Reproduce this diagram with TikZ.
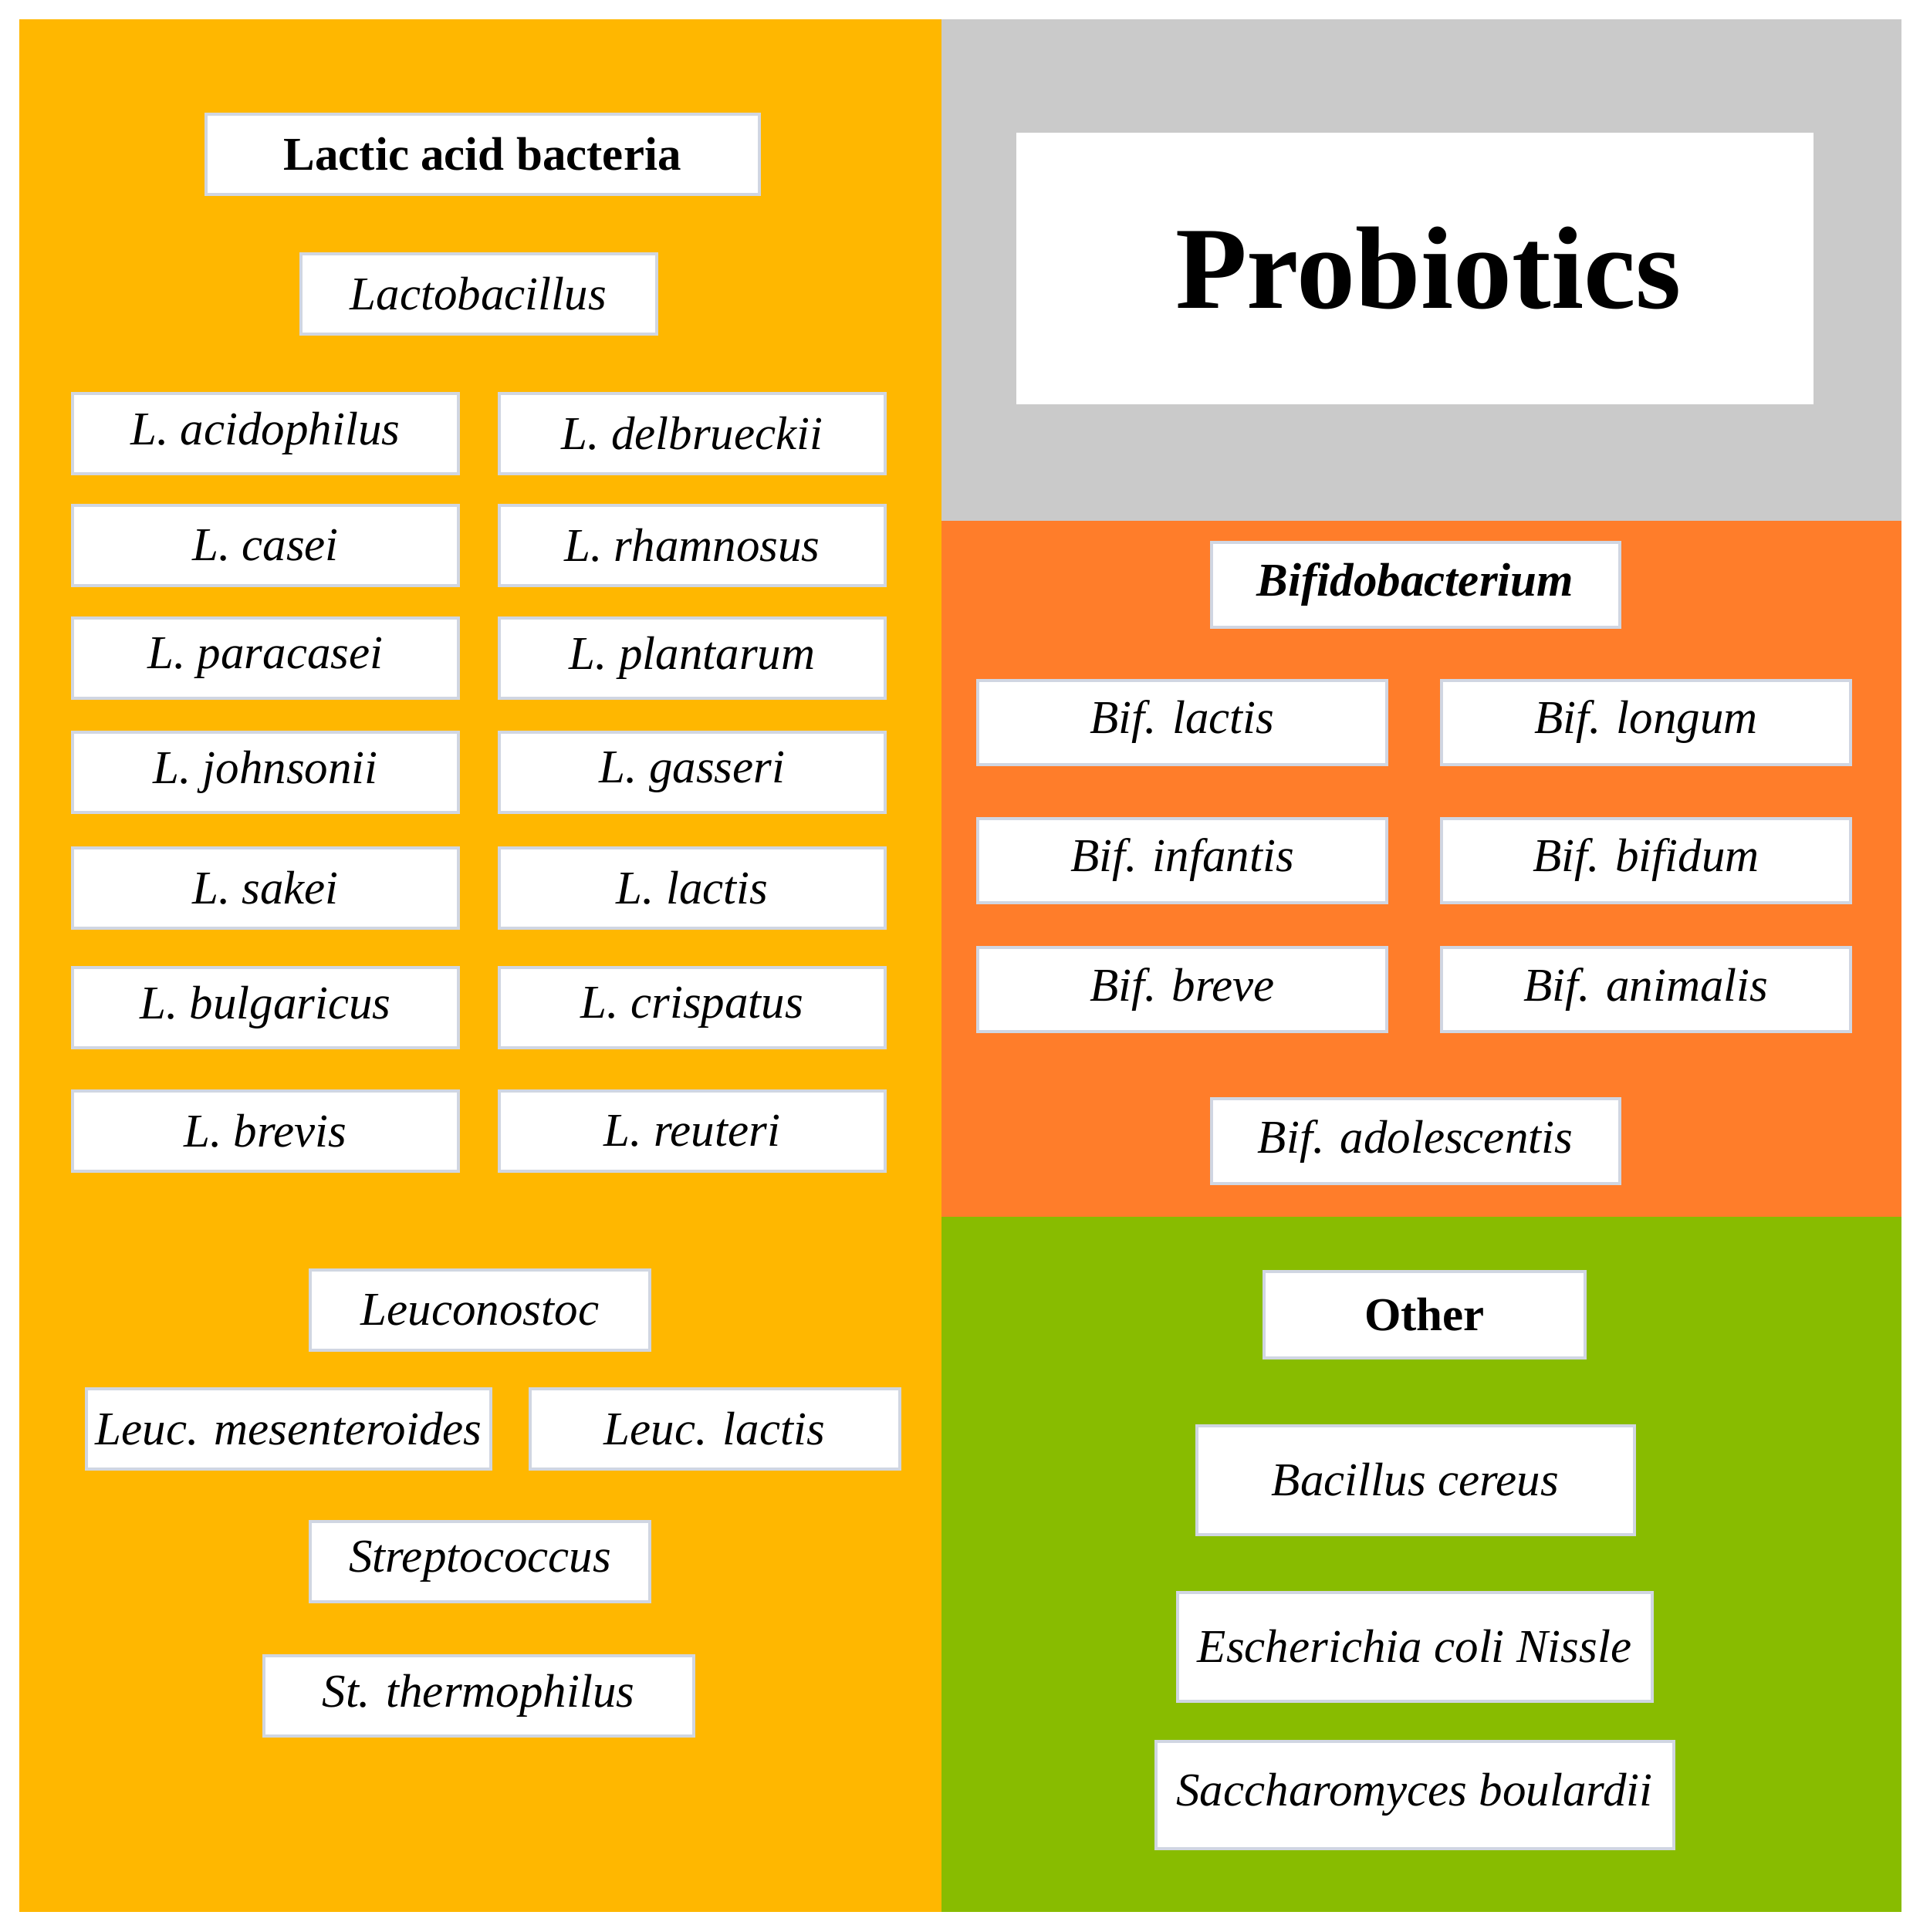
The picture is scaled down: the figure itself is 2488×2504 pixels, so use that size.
\documentclass[tikz,border=0pt]{standalone}
\usepackage{fontspec}
\setmainfont{Liberation Serif}
\definecolor{lab}{RGB}{255,183,0}
\definecolor{bif}{RGB}{255,125,42}
\definecolor{oth}{RGB}{136,188,0}
\definecolor{gry}{RGB}{202,202,202}
\definecolor{edge}{RGB}{208,214,226}
\begin{document}
\begin{tikzpicture}[x=1pt,y=-1pt,
  bx/.style={draw=edge, line width=4pt, fill=white, inner sep=0pt,
    minimum height=104pt, font=\fontsize{61}{70}\selectfont},
  lw/.style={bx, minimum width=500pt},
  bw/.style={bx, minimum width=530pt, minimum height=109pt}]
\useasboundingbox (0,0) rectangle (2488,2504);
\fill[white] (0,0) rectangle (2488,2504);
% panels
\fill[lab] (25,25) rectangle (1220,2478);
\fill[gry] (1220,25) rectangle (2464,675);
\fill[bif] (1220,675) rectangle (2464,1577);
\fill[oth] (1220,1577) rectangle (2464,2478);
% left panel
\node[bx, minimum width=717pt] (lab) at (625,200) {\textbf{Lactic acid bacteria}};
\node[bx, minimum width=461pt] (lacto) at (620,381) {\textit{Lactobacillus}};
\node[lw] (l1) at (344,562) {\textit{L. acidophilus}};
\node[lw] (r1) at (897,562) {\textit{L. delbrueckii}};
\node[lw] (l2) at (344,707) {\textit{L. casei}};
\node[lw] (r2) at (897,707) {\textit{L. rhamnosus}};
\node[lw] (l3) at (344,853) {\textit{L. paracasei}};
\node[lw] (r3) at (897,853) {\textit{L. plantarum}};
\node[lw] (l4) at (344,1001) {\textit{L. johnsonii}};
\node[lw] (r4) at (897,1001) {\textit{L. gasseri}};
\node[lw] (l5) at (344,1151) {\textit{L. sakei}};
\node[lw] (r5) at (897,1151) {\textit{L. lactis}};
\node[lw] (l6) at (344,1306) {\textit{L. bulgaricus}};
\node[lw] (r6) at (897,1306) {\textit{L. crispatus}};
\node[lw] (l7) at (344,1466) {\textit{L. brevis}};
\node[lw] (r7) at (897,1466) {\textit{L. reuteri}};
\node[bx, minimum width=440pt] (leuc) at (622,1698) {\textit{Leuconostoc}};
\node[bx, minimum width=524pt] (lmes) at (374,1852) {\textit{Leuc. mesenteroides}};
\node[bx, minimum width=479pt] (llac) at (926,1852) {\textit{Leuc. lactis}};
\node[bx, minimum width=440pt] (strep) at (622,2024) {\textit{Streptococcus}};
\node[bx, minimum width=557pt] (sth) at (620,2198) {\textit{St. thermophilus}};
% probiotics
\node[fill=white, inner sep=0pt, minimum width=1033pt, minimum height=352pt,
  font=\fontsize{152}{170}\selectfont\bfseries] (prob) at (1833,348) {\hspace*{36pt}Probiotics};
% bifidobacterium
\node[bx, minimum width=529pt, minimum height=110pt] (bifi) at (1834,758) {\textbf{\textit{Bifidobacterium}}};
\node[bw] (b1) at (1532,936) {\textit{Bif. lactis}};
\node[bw] (b2) at (2133,936) {\textit{Bif. longum}};
\node[bw] (b3) at (1532,1115) {\textit{Bif. infantis}};
\node[bw] (b4) at (2133,1115) {\textit{Bif. bifidum}};
\node[bw] (b5) at (1532,1282) {\textit{Bif. breve}};
\node[bw] (b6) at (2133,1282) {\textit{Bif. animalis}};
\node[bx, minimum width=529pt, minimum height=110pt] (b7) at (1834,1479) {\textit{Bif. adolescentis}};
% other
\node[bx, minimum width=416pt, minimum height=112pt] (oth) at (1846,1704) {\textbf{Other}};
\node[bx, minimum width=567pt, minimum height=141pt] (bac) at (1834,1918) {\textit{Bacillus cereus}};
\node[bx, minimum width=615pt, minimum height=141pt] (eco) at (1833,2134) {\textit{Escherichia coli Nissle}};
\node[bx, minimum width=671pt, minimum height=139pt] (sac) at (1833,2326) {\textit{Saccharomyces boulardii}};
\end{tikzpicture}
\end{document}
